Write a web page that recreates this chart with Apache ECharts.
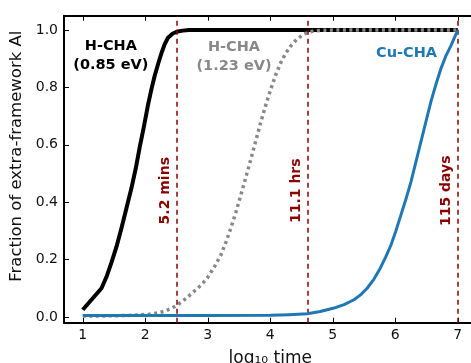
<!DOCTYPE html>
<html>
<head>
<meta charset="utf-8">
<script src="https://cdn.jsdelivr.net/npm/echarts@6/dist/echarts.min.js"></script>
<style>
html,body{margin:0;padding:0;background:#fff;overflow:hidden;}
#c{width:471px;height:363px;}
</style>
</head>
<body>
<div id="c"></div>
<script>
// ---- data ----
var blackX = [1.0, 1.3, 1.38, 1.46, 1.54, 1.62, 1.70, 1.78, 1.85, 1.91, 1.98, 2.045, 2.10, 2.15, 2.21, 2.26, 2.31, 2.36, 2.44, 2.52, 2.6, 2.7, 3, 4, 5, 6, 7];
var blackY = [0.025, 0.10, 0.14, 0.19, 0.245, 0.31, 0.38, 0.45, 0.52, 0.59, 0.665, 0.74, 0.795, 0.84, 0.885, 0.92, 0.95, 0.972, 0.988, 0.995, 0.998, 1.0, 1, 1, 1, 1, 1];

var grayX = [1.0, 1.5, 1.8, 2.04, 2.2, 2.31, 2.42, 2.52, 2.65, 2.78, 2.89, 2.99, 3.1, 3.21, 3.29, 3.37, 3.45, 3.53, 3.61, 3.69, 3.77, 3.85, 3.93, 4.01, 4.09, 4.17, 4.25, 4.33, 4.43, 4.54, 4.62, 4.7, 4.85, 5, 6, 7];
var grayY = [0.003, 0.004, 0.006, 0.009, 0.014, 0.02, 0.03, 0.043, 0.064, 0.089, 0.11, 0.135, 0.172, 0.216, 0.26, 0.31, 0.365, 0.425, 0.487, 0.55, 0.615, 0.68, 0.74, 0.795, 0.845, 0.887, 0.92, 0.945, 0.969, 0.986, 0.993, 0.997, 0.999, 1, 1, 1];

var blueX = [1, 2, 3, 4, 4.3, 4.59, 4.8, 5.02, 5.18, 5.34, 5.45, 5.55, 5.66, 5.76, 5.85, 5.93, 6.01, 6.09, 6.17, 6.25, 6.33, 6.41, 6.49, 6.57, 6.65, 6.73, 6.81, 6.89, 6.95, 7.0];
var blueY = [0.005, 0.005, 0.005, 0.006, 0.008, 0.011, 0.019, 0.031, 0.043, 0.06, 0.078, 0.10, 0.132, 0.17, 0.21, 0.25, 0.3, 0.355, 0.41, 0.47, 0.54, 0.61, 0.68, 0.75, 0.81, 0.865, 0.91, 0.945, 0.975, 0.998];

var vlineX = [2.5, 4.6, 7.0];
var vlineLabels = ['5.2 mins', '11.1 hrs', '115 days'];
var vlineLabelY = [0.44, 0.44, 0.44];

var curveLabels = ['H-CHA\n(0.85 eV)', 'H-CHA\n(1.23 eV)', 'Cu-CHA'];
var curveLabelX = [1.45, 3.42, 6.18];
var curveLabelY = [0.91, 0.907, 0.92];

var xTicks = [1, 2, 3, 4, 5, 6, 7];
var yTicks = [0.0, 0.2, 0.4, 0.6, 0.8, 1.0];

var xName = 'log\u2081\u2080 time';
var yName = 'Fraction of extra-framework Al';

// ---- build ----
function zip(a, b) { return a.map(function (v, i) { return [v, b[i]]; }); }
var FONT = 'DejaVu Sans';
var curveColors = ['#000000', '#888888', '#1f77b4'];
var darkRed = '#8b0000';

var chart = echarts.init(document.getElementById('c'), null, {renderer: 'canvas'});

var axisCommon = {
  axisLine: {show: true, onZero: false, lineStyle: {color: '#000', width: 2}},
  splitLine: {show: false}
};

var option = {
  animation: false,
  backgroundColor: '#fff',
  grid: {left: 64, top: 15.7, width: 412.5, height: 307, containLabel: false, outerBoundsMode: 'none'},
  graphic: [{
    type: 'rect', right: 0, top: 17, z: 100, silent: true,
    shape: {width: 5, height: 304},
    style: {fill: '#fff'}
  }],
  xAxis: [
    Object.assign({}, axisCommon, {
      type: 'value', min: 0.7, max: 7.3, position: 'bottom',
      name: xName, nameLocation: 'middle', nameGap: 27,
      nameTextStyle: {fontFamily: FONT, fontSize: 17, color: '#111'},
      axisTick: {show: true, inside: true, length: 5, customValues: xTicks, lineStyle: {color: '#000', width: 1}},
      axisLabel: {show: true, customValues: xTicks, margin: 6, fontFamily: FONT, fontSize: 14, color: '#111'}
    }),
    Object.assign({}, axisCommon, {
      type: 'value', min: 0.7, max: 7.3, position: 'top',
      axisTick: {show: true, inside: true, length: 5, customValues: xTicks, lineStyle: {color: '#000', width: 1}},
      axisLabel: {show: false}
    })
  ],
  yAxis: [
    Object.assign({}, axisCommon, {
      type: 'value', min: -0.02, max: 1.05, position: 'left',
      name: yName, nameLocation: 'middle', nameGap: 36, nameRotate: 90,
      nameTextStyle: {fontFamily: FONT, fontSize: 16.5, color: '#111', padding: [0, 0, 0, 26]},
      axisTick: {show: true, inside: true, length: 5, customValues: yTicks, lineStyle: {color: '#000', width: 1}},
      axisLabel: {show: true, customValues: yTicks, margin: 6, fontFamily: FONT, fontSize: 14, color: '#111',
        formatter: function (v) { return v.toFixed(1); }}
    })
  ],
  series: [
    {
      type: 'line', name: 'vlines', data: [], silent: true,
      markLine: {
        symbol: ['none', 'none'], silent: true, animation: false,
        label: {show: false},
        lineStyle: {color: darkRed, type: [5, 4], width: 1.5},
        data: vlineX.map(function (x) { return {xAxis: x}; })
      }
    },
    {
      type: 'line', name: 'H-CHA (0.85 eV)', data: zip(blackX, blackY), showSymbol: false,
      smooth: false, z: 3,
      lineStyle: {color: curveColors[0], width: 4, join: 'round'}
    },
    {
      type: 'line', name: 'H-CHA (1.23 eV)', data: zip(grayX, grayY), showSymbol: false,
      smooth: false, z: 4,
      lineStyle: {color: curveColors[1], width: 3.5, type: [3, 3.5], cap: 'butt'}
    },
    {
      type: 'line', name: 'Cu-CHA', data: zip(blueX, blueY), showSymbol: false,
      smooth: false, z: 5,
      lineStyle: {color: curveColors[2], width: 3, join: 'round'}
    },
    {
      type: 'scatter', name: 'vlabels', symbolSize: 0, silent: true, z: 6,
      itemStyle: {color: darkRed, opacity: 1},
      data: vlineX.map(function (x, i) { return {value: [x, vlineLabelY[i]], name: vlineLabels[i]}; }),
      label: {show: true, position: 'inside', rotate: 90, offset: [0, -11],
        formatter: function (p) { return p.name; }, textBorderWidth: 0, opacity: 1,
        fontFamily: FONT, fontSize: 14, fontWeight: 'bold', color: darkRed}
    },
    {
      type: 'scatter', name: 'clabels', symbolSize: 0, silent: true, z: 6,
      itemStyle: {opacity: 1},
      data: curveLabels.map(function (t, i) {
        return {value: [curveLabelX[i], curveLabelY[i]], name: t,
          itemStyle: {color: curveColors[i], opacity: 1},
          label: {color: curveColors[i]}};
      }),
      label: {show: true, position: 'inside', align: 'center', verticalAlign: 'middle',
        formatter: function (p) { return p.name; }, lineHeight: 19, textBorderWidth: 0, opacity: 1,
        fontFamily: FONT, fontSize: 14.5, fontWeight: 'bold'}
    }
  ]
};
chart.setOption(option);
</script>
</body>
</html>
